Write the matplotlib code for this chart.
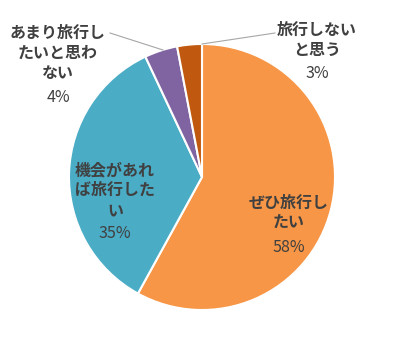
import matplotlib.pyplot as plt

plt.rcParams['font.family'] = ['Noto Sans CJK JP', 'DejaVu Sans']

labels = ['ぜひ旅行し\nたい', '機会があれ\nば旅行した\nい', 'あまり旅行し\nたいと思わ\nない', '旅行しない\nと思う']
values = [58, 35, 4, 3]
colors = ['#F79646', '#4BACC6', '#8064A2', '#C0590F']

# label centre (pixels from top-left), first line y
label_pos = [(289, 203), (115, 170), (58, 33), (317, 30)]
# leader lines for the outside labels (pixels)
leaders = {2: ((110, 33), (163, 50)), 3: ((275, 33), (202, 44))}

W, H = 400, 338
cx, cy, r = 202, 177, 133


def px(x, y):
    return (x - cx) / r, (cy - y) / r


fig = plt.figure(figsize=(W / 100, H / 100), dpi=100)
ax = fig.add_axes([0, 0, 1, 1])
ax.pie(values, colors=colors, startangle=90, counterclock=False,
       wedgeprops=dict(edgecolor='white', linewidth=1.5))
ax.set_xlim(-cx / r, (W - cx) / r)
ax.set_ylim(-(H - cy) / r, cy / r)
ax.set_aspect('auto')
ax.axis('off')

txt = '#404040'
for i, (lab, v) in enumerate(zip(labels, values)):
    x0, y0 = label_pos[i]
    lines = lab.split('\n')
    for k, line in enumerate(lines):
        ax.text(*px(x0, y0 + 20 * k), line, ha='center', va='center',
                fontsize=11.5, fontweight='bold', color=txt)
    ax.text(*px(x0, y0 + 20 * len(lines) + 4), f'{v}%', ha='center', va='center',
            fontsize=11.5, color=txt)

for i, (a, b) in leaders.items():
    p1, p2 = px(*a), px(*b)
    ax.plot([p1[0], p2[0]], [p1[1], p2[1]], color='#A6A6A6', lw=0.8)

fig.savefig('out.png', dpi=100)
